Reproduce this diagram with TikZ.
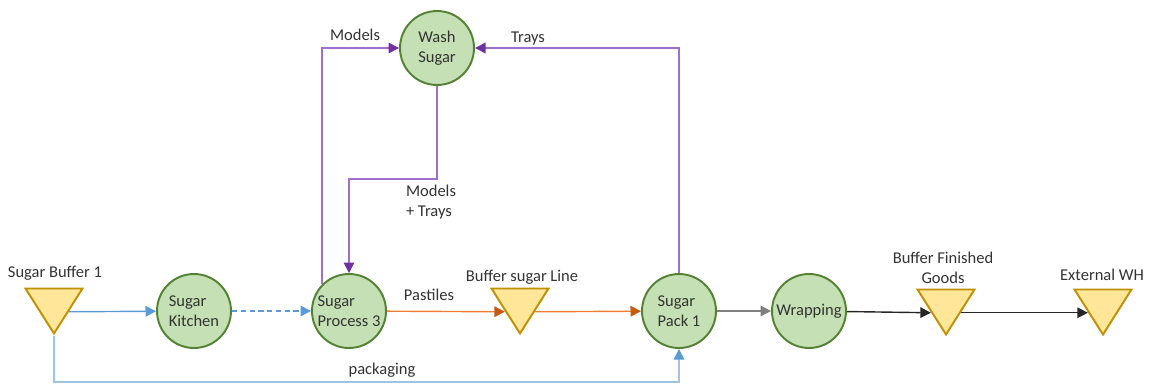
\documentclass[tikz,border=0pt]{standalone}
\usepackage{fontspec}
\setmainfont{Carlito}
\usetikzlibrary{shapes.geometric,arrows.meta}
\definecolor{procfill}{HTML}{C5E0B4}
\definecolor{procline}{HTML}{548235}
\definecolor{buffill}{HTML}{FFE699}
\definecolor{bufline}{HTML}{BF9000}
\definecolor{bluefl}{HTML}{5B9BD5}
\definecolor{bluelight}{HTML}{9DC3E6}
\definecolor{orangefl}{HTML}{ED7D31}
\definecolor{orangetip}{HTML}{C55A11}
\definecolor{purpfl}{HTML}{9E6FCF}
\definecolor{purptip}{HTML}{7030A0}
\definecolor{grayfl}{HTML}{7F7F7F}
\definecolor{txtgray}{HTML}{333333}
\begin{document}
\begin{tikzpicture}[x=0.02cm,y=-0.02cm,
    font=\fontsize{9.4}{11.5}\selectfont, text=txtgray,
    proc/.style={circle, draw=procline, fill=procfill, line width=1.1pt,
        minimum size=1.48cm, inner sep=0pt, align=left},
    buffer/.style={isosceles triangle, isosceles triangle stretches,
        shape border rotate=-90, draw=bufline, fill=buffill, line width=1.1pt,
        minimum width=1.14cm, minimum height=0.9cm, inner sep=0pt, anchor=apex},
    flow/.style={line width=0.8pt, -{Triangle[length=6pt,width=6pt]}}]
    \useasboundingbox (0,0) rectangle (1149,385);

    % Prozesse
    \node[proc] (wash) at (437,48) {Wash\\Sugar};
    \node[proc] (kitchen) at (194,311) {Sugar\\Kitchen};
    \node[proc] (process) at (349,311) {Sugar\\Process 3};
    \node[proc] (pack) at (679,311) {Sugar\\Pack 1};
    \node[proc] (wrap) at (809,311) {Wrapping};

    % Puffer
    \node[buffer] (buf1) at (54,336) {};
    \node (buf1lbl) at (55,273) {Sugar Buffer 1};
    \node[buffer] (bufl) at (520,336) {};
    \node (bufllbl) at (522,277) {Buffer sugar Line};
    \node[buffer] (bfg) at (946,337) {};
    \node[align=center] (bfglbl) at (943,268) {Buffer Finished\\Goods};
    \node[buffer] (extwh) at (1103,337) {};
    \node (extwhlbl) at (1102,275) {External WH};

    % Hauptlinie
    \draw[flow, bluefl] (buf1.left side) -- (kitchen);
    \draw[flow, bluefl, dash pattern=on 3pt off 2pt] (kitchen) -- (process);
    \draw[flow, orangefl, -{Triangle[length=6pt,width=6pt,color=orangetip]}] (process) -- (bufl.right side);
    \draw[flow, orangefl, -{Triangle[length=6pt,width=6pt,color=orangetip]}] (bufl.left side) -- (pack);
    \draw[flow, grayfl] (pack) -- (wrap);
    \draw[flow, black!85] (wrap) -- (bfg.right side);
    \draw[flow, black!85] (bfg.left side) -- (extwh.right side);
    \node (pastlbl) at (429,295) {Pastiles};

    % Verpackung
    \draw[flow, bluelight, -{Triangle[length=6pt,width=6pt,color=bluefl]}] (buf1.apex) -- ++(0,46) -| (pack.south);
    \node (pkglbl) at (382,370) {packaging};

    % Waschkreislauf
    \draw[flow, purpfl, -{Triangle[length=6pt,width=6pt,color=purptip]}] (process.north west) |- (wash.west);
    \draw[flow, purpfl, -{Triangle[length=6pt,width=6pt,color=purptip]}] (pack.north) |- (wash.east);
    \draw[flow, purpfl, -{Triangle[length=6pt,width=6pt,color=purptip]}] (wash.south) -- ++(0,93) -| (process.north);
    \node (modlbl) at (355,35) {Models};
    \node (traylbl) at (528,39) {Trays};
    \node[align=left] (mtlbl) at (431,202) {Models\\+ Trays};
\end{tikzpicture}
\end{document}
